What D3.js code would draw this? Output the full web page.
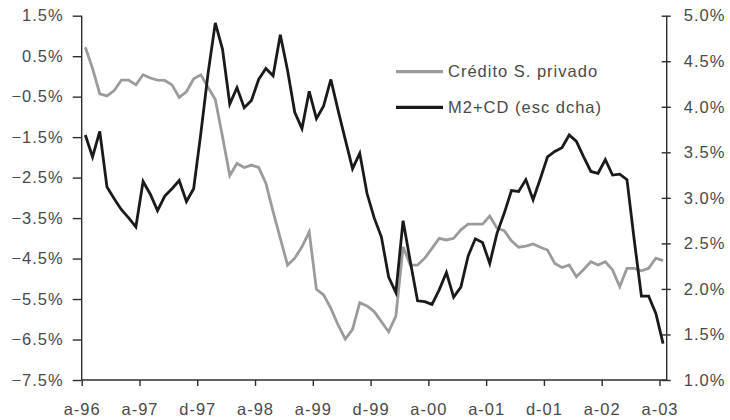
<!DOCTYPE html>
<html>
<head>
<meta charset="utf-8">
<script src="https://cdn.jsdelivr.net/npm/d3@7"></script>
<style>
  html, body { margin: 0; padding: 0; background: #fff; }
  svg text { font-family: "Liberation Sans", Arial, Helvetica, sans-serif; font-size: 16.5px; fill: #4a4a4a; letter-spacing: 1px; }
</style>
</head>
<body>
<svg id="chart" width="730" height="420"></svg>
<script>
// Months (Aug 1996 .. Apr 2003)
const months = [
  "1996-08","1996-09","1996-10","1996-11","1996-12",
  "1997-01","1997-02","1997-03","1997-04","1997-05","1997-06","1997-07","1997-08","1997-09","1997-10","1997-11","1997-12",
  "1998-01","1998-02","1998-03","1998-04","1998-05","1998-06","1998-07","1998-08","1998-09","1998-10","1998-11","1998-12",
  "1999-01","1999-02","1999-03","1999-04","1999-05","1999-06","1999-07","1999-08","1999-09","1999-10","1999-11","1999-12",
  "2000-01","2000-02","2000-03","2000-04","2000-05","2000-06","2000-07","2000-08","2000-09","2000-10","2000-11","2000-12",
  "2001-01","2001-02","2001-03","2001-04","2001-05","2001-06","2001-07","2001-08","2001-09","2001-10","2001-11","2001-12",
  "2002-01","2002-02","2002-03","2002-04","2002-05","2002-06","2002-07","2002-08","2002-09","2002-10","2002-11","2002-12",
  "2003-01","2003-02","2003-03","2003-04"
];

// Crédito S. privado (left axis, %)
const credito = [
  0.72, 0.20, -0.43, -0.48, -0.35, -0.09, -0.09, -0.21, 0.04, -0.04,
  -0.09, -0.10, -0.21, -0.52, -0.38, -0.06, 0.04, -0.27, -0.57, -1.49,
  -2.45, -2.15, -2.25, -2.19, -2.25, -2.64, -3.34, -4.00, -4.66, -4.49,
  -4.21, -3.84, -5.26, -5.40, -5.73, -6.14, -6.49, -6.25, -5.59, -5.67,
  -5.81, -6.06, -6.31, -5.92, -4.21, -4.66, -4.66, -4.49, -4.25, -4.00,
  -4.04, -4.00, -3.79, -3.65, -3.65, -3.65, -3.45, -3.75, -3.81, -4.06,
  -4.22, -4.19, -4.14, -4.22, -4.29, -4.62, -4.72, -4.66, -4.95, -4.77,
  -4.58, -4.66, -4.58, -4.78, -5.19, -4.74, -4.74, -4.80, -4.74, -4.49,
  -4.55
];

// M2+CD (right axis, %)
const m2cd = [
  3.69, 3.45, 3.73, 3.12, 2.99, 2.87, 2.78, 2.68, 3.18, 3.04,
  2.86, 3.02, 3.10, 3.19, 2.96, 3.10, 3.71, 4.37, 4.92, 4.63,
  4.03, 4.21, 3.99, 4.07, 4.30, 4.42, 4.34, 4.79, 4.40, 3.94,
  3.76, 4.17, 3.87, 4.01, 4.30, 3.96, 3.64, 3.32, 3.49, 3.05,
  2.78, 2.57, 2.13, 1.96, 2.75, 2.30, 1.87, 1.86, 1.83, 1.99,
  2.18, 1.91, 2.02, 2.36, 2.55, 2.51, 2.28, 2.61, 2.83, 3.08,
  3.07, 3.20, 2.98, 3.21, 3.45, 3.51, 3.55, 3.69, 3.62, 3.45,
  3.29, 3.27, 3.42, 3.25, 3.26, 3.20, 2.54, 1.92, 1.92, 1.73,
  1.40
];

// X tick labels (every 8 months)
const xTickIndex = [0, 8, 16, 24, 32, 40, 48, 56, 64, 72, 80];
const xTickLabels = ["a-96","a-97","d-97","a-98","a-99","d-99","a-00","a-01","d-01","a-02","a-03"];
const leftTicks = [1.5, 0.5, -0.5, -1.5, -2.5, -3.5, -4.5, -5.5, -6.5, -7.5];
const rightTicks = [1.0, 1.5, 2.0, 2.5, 3.0, 3.5, 4.0, 4.5, 5.0];
const seriesNames = ["Crédito S. privado", "M2+CD (esc dcha)"];
const seriesColors = ["#9b9b9b", "#1a1a1a"];

const svg = d3.select("#chart");
const L = 81.7, R = 666.7, T = 15.7, B = 380;

const x = d3.scaleLinear().domain([0, months.length]).range([L, R]);
const yL = d3.scaleLinear().domain([-7.5, 1.5]).range([B, T]);
const yR = d3.scaleLinear().domain([1.0, 5.0]).range([B, T]);

const fmt = v => d3.format(".1f")(v).replace("-", "\u2212") + "%";
const axisColor = "#2e2e2e";

// Left axis
const gl = svg.append("g").attr("transform", `translate(${L},0)`)
  .call(d3.axisLeft(yL).tickValues(leftTicks).tickFormat(fmt).tickSize(9).tickPadding(9));
// Right axis (ticks crossing)
const gr = svg.append("g").attr("transform", `translate(${R},0)`)
  .call(d3.axisRight(yR).tickValues(rightTicks).tickFormat(d3.format(".1f")).tickSize(4).tickPadding(13));
gr.selectAll(".tick text").text(d => d3.format(".1f")(d) + "%");
gr.selectAll(".tick line").attr("x1", -5);
// Bottom axis
const gb = svg.append("g").attr("transform", `translate(0,${B})`)
  .call(d3.axisBottom(x).tickValues(xTickIndex).tickFormat((d, i) => xTickLabels[i]).tickSize(6).tickSizeOuter(0).tickPadding(23));

[gl, gr, gb].forEach(g => {
  g.selectAll(".domain").attr("stroke", axisColor).attr("stroke-width", 1.4);
  g.selectAll(".tick line").attr("stroke", axisColor).attr("stroke-width", 1.4);
  g.selectAll("text").attr("font-family", null).attr("font-size", null).attr("fill", "#4a4a4a");
});
gl.select(".domain").attr("d", `M0,${T}V${B}`);
gr.select(".domain").attr("d", `M0,${T}V${B}`);
gb.select(".domain").attr("d", `M${L},0H${R}`);
gb.selectAll(".tick text").attr("dy", "0.35em");

// Lines
const lineL = d3.line().x((d, i) => x(i + 0.5)).y(d => yL(d));
const lineR = d3.line().x((d, i) => x(i + 0.5)).y(d => yR(d));

svg.append("path").datum(credito).attr("d", lineL)
  .attr("fill", "none").attr("stroke", seriesColors[0]).attr("stroke-width", 2.8).attr("stroke-linejoin", "miter");
svg.append("path").datum(m2cd).attr("d", lineR)
  .attr("fill", "none").attr("stroke", seriesColors[1]).attr("stroke-width", 2.8).attr("stroke-linejoin", "miter");

// Legend
const lg = svg.append("g");
const legY = [71.7, 107.3];
seriesNames.forEach((n, i) => {
  lg.append("line").attr("x1", 396).attr("x2", 443).attr("y1", legY[i]).attr("y2", legY[i])
    .attr("stroke", seriesColors[i]).attr("stroke-width", 3.2);
  lg.append("text").attr("x", 448).attr("y", legY[i]).attr("dy", "0.35em").text(n);
});
</script>
</body>
</html>
